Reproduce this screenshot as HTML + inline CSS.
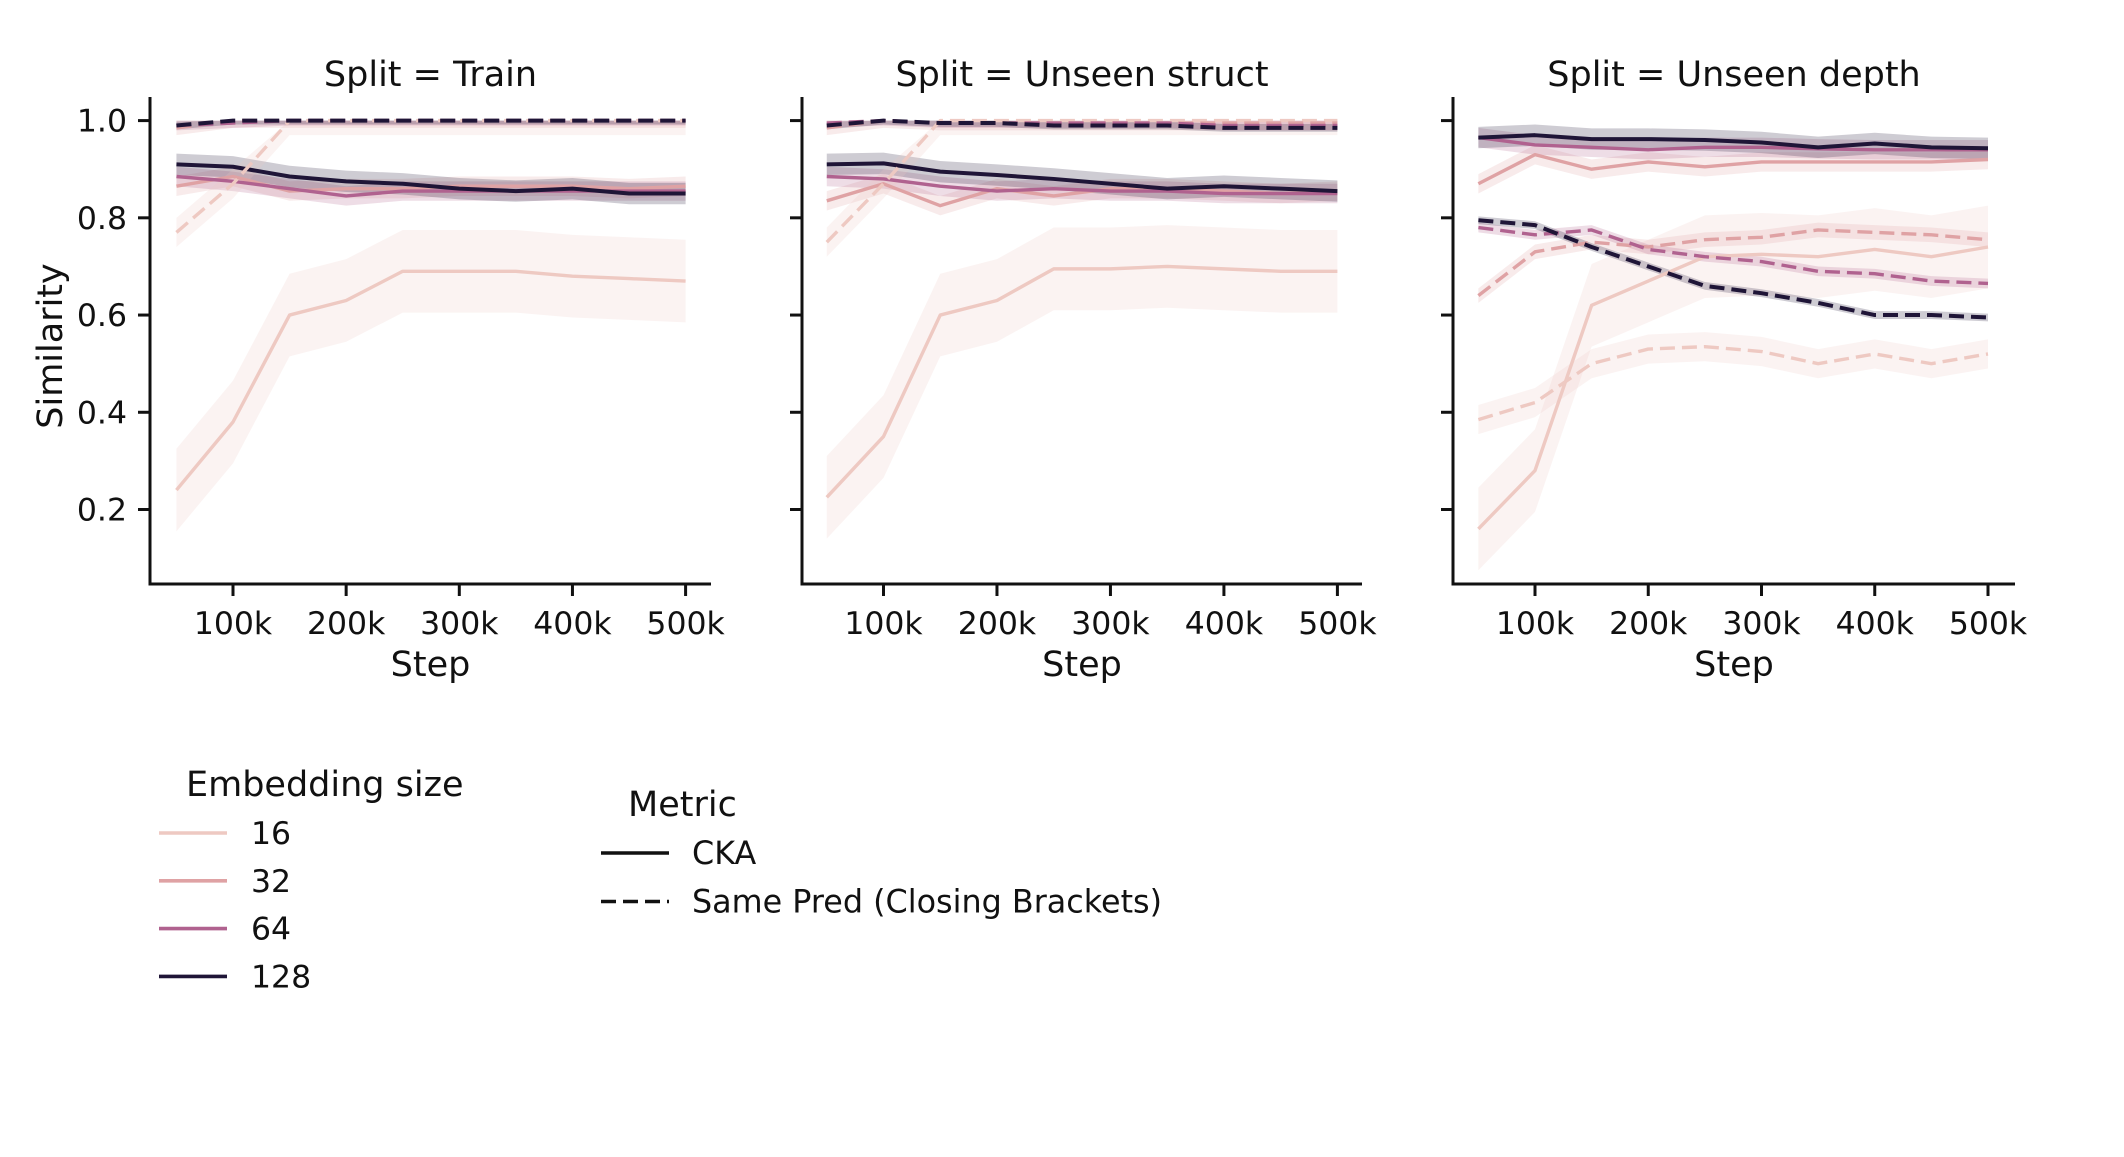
<!DOCTYPE html>
<html><head><meta charset="utf-8">
<style>
html,body{margin:0;padding:0;background:#fff;}
svg text{font-family:"DejaVu Sans","Liberation Sans",sans-serif;fill:#111;}
</style></head>
<body>
<svg id="chart" width="2124" height="1152" viewBox="0 0 2124 1152" xmlns="http://www.w3.org/2000/svg"></svg>
<script>
const steps = [50,100,150,200,250,300,350,400,450,500];
const xTicks = [100,200,300,400,500];
const xTickLabels = ["100k","200k","300k","400k","500k"];
const yTicks = [0.2,0.4,0.6,0.8,1.0];
const yTickLabels = ["0.2","0.4","0.6","0.8","1.0"];
const panelTitles = ["Split = Train","Split = Unseen struct","Split = Unseen depth"];
const embSizes = [16,32,64,128];
const embColors = {16:"#eec9c2",32:"#dfa2a4",64:"#b0628f",128:"#1f1537"};
const metrics = ["CKA","Same Pred (Closing Brackets)"];

// Train
const trainCKA16 = [0.24,0.38,0.60,0.63,0.69,0.69,0.69,0.68,0.675,0.67];
const trainCKA32 = [0.865,0.885,0.855,0.86,0.86,0.865,0.865,0.865,0.86,0.865];
const trainCKA64 = [0.885,0.875,0.86,0.845,0.855,0.855,0.855,0.855,0.855,0.855];
const trainCKA128 = [0.91,0.905,0.885,0.875,0.87,0.86,0.855,0.86,0.85,0.85];
const trainSame16 = [0.77,0.87,1.0,1.0,1.0,1.0,1.0,1.0,1.0,1.0];
const trainSame32 = [0.985,1.0,1.0,1.0,1.0,1.0,1.0,1.0,1.0,1.0];
const trainSame64 = [0.99,0.995,1.0,1.0,1.0,1.0,1.0,1.0,1.0,1.0];
const trainSame128 = [0.99,1.0,1.0,1.0,1.0,1.0,1.0,1.0,1.0,1.0];
// Unseen struct
const structCKA16 = [0.225,0.35,0.60,0.63,0.695,0.695,0.70,0.695,0.69,0.69];
const structCKA32 = [0.835,0.87,0.825,0.86,0.845,0.86,0.86,0.855,0.85,0.855];
const structCKA64 = [0.885,0.88,0.865,0.855,0.86,0.855,0.855,0.85,0.85,0.85];
const structCKA128 = [0.91,0.912,0.895,0.888,0.88,0.87,0.86,0.865,0.86,0.855];
const structSame16 = [0.75,0.87,1.0,1.0,1.0,1.0,1.0,1.0,1.0,1.0];
const structSame32 = [0.985,1.0,0.995,0.995,0.995,0.995,0.995,0.995,0.995,0.995];
const structSame64 = [0.995,1.0,0.995,0.995,0.995,0.995,0.995,0.99,0.99,0.99];
const structSame128 = [0.99,1.0,0.995,0.995,0.99,0.99,0.99,0.985,0.985,0.985];
// Unseen depth
const depthCKA16 = [0.16,0.28,0.62,0.67,0.72,0.725,0.72,0.735,0.72,0.74];
const depthCKA32 = [0.87,0.93,0.90,0.915,0.905,0.915,0.915,0.915,0.915,0.92];
const depthCKA64 = [0.965,0.95,0.945,0.94,0.945,0.945,0.942,0.94,0.94,0.94];
const depthCKA128 = [0.965,0.97,0.962,0.962,0.96,0.955,0.945,0.953,0.945,0.943];
const depthSame16 = [0.385,0.42,0.50,0.53,0.535,0.525,0.50,0.52,0.50,0.52];
const depthSame32 = [0.64,0.73,0.75,0.74,0.755,0.76,0.775,0.77,0.765,0.755];
const depthSame64 = [0.78,0.765,0.775,0.735,0.72,0.71,0.69,0.685,0.67,0.665];
const depthSame128 = [0.795,0.785,0.74,0.70,0.66,0.645,0.625,0.60,0.60,0.595];
// confidence half-widths (per series)
const bandCKA = {16:0.085,32:0.02,64:0.02,128:0.022};
const bandSame = {16:0.03,32:0.015,64:0.01,128:0.008};

const panelData = [
 {cka:{16:trainCKA16,32:trainCKA32,64:trainCKA64,128:trainCKA128}, same:{16:trainSame16,32:trainSame32,64:trainSame64,128:trainSame128}},
 {cka:{16:structCKA16,32:structCKA32,64:structCKA64,128:structCKA128}, same:{16:structSame16,32:structSame32,64:structSame64,128:structSame128}},
 {cka:{16:depthCKA16,32:depthCKA32,64:depthCKA64,128:depthCKA128}, same:{16:depthSame16,32:depthSame32,64:depthSame64,128:depthSame128}}
];
const panels = [
 {left:150,right:711,x100:233,x500:685.6},
 {left:802,right:1362,x100:883.5,x500:1337.4},
 {left:1453,right:2015,x100:1535,x500:1988}
];
const yTop=97, yBot=584, y1=120.6, y02=509.5;
const NS="http://www.w3.org/2000/svg";
const svg=document.getElementById("chart");
function mk(tag,attrs,parent){const e=document.createElementNS(NS,tag);for(const k in attrs)e.setAttribute(k,attrs[k]);(parent||svg).appendChild(e);return e;}
function yScale(v){return y1+(1-v)*(y02-y1)/0.8;}

panels.forEach((p,pi)=>{
  const xs=v=>p.x100+(v-100)*(p.x500-p.x100)/400;
  const g=mk("g",{});
  
  
  const t=mk("text",{x:(p.left+p.right)/2,y:86,"font-size":35,"text-anchor":"middle"},g);
  t.textContent=panelTitles[pi];
  
  
  const d=panelData[pi];
  [["cka",bandCKA],["same",bandSame]].forEach(([m,bw])=>{
    embSizes.forEach(s=>{
      const vals=d[m][s];
      let top=vals.map((v,i)=>xs(steps[i])+","+yScale(Math.min(1.0,v+bw[s]))).join(" ");
      let bot=vals.map((v,i)=>xs(steps[i])+","+yScale(v-bw[s])).reverse().join(" ");
      const b=mk("polygon",{points:top+" "+bot,fill:embColors[s],"fill-opacity":0.22,stroke:"none"},g);
      
      
    });
  });
  [["cka",null],["same","15,7"]].forEach(([m,dash])=>{
    embSizes.forEach(s=>{
      const vals=d[m][s];
      const pts=vals.map((v,i)=>xs(steps[i])+","+yScale(v)).join(" ");
      const a={points:pts,fill:"none",stroke:embColors[s],"stroke-width":s===128?4:3.4,"stroke-linejoin":"round"};
      if(dash)a["stroke-dasharray"]=dash;
      const l=mk("polyline",a,g);
      
      
    });
  });
  const ax=mk("path",{d:`M${p.left},${yTop} V${yBot} H${p.right}`,fill:"none",stroke:"#111","stroke-width":3},g);
  
  
  yTicks.forEach((v,i)=>{
    mk("line",{x1:p.left-12,x2:p.left,y1:yScale(v),y2:yScale(v),stroke:"#111","stroke-width":3},g);
    if(pi===0){
      const tl=mk("text",{x:p.left-23,y:yScale(v)+11,"font-size":31.5,"text-anchor":"end"},g);
      tl.textContent=yTickLabels[i];
      
      
    }
  });
  xTicks.forEach((v,i)=>{
    mk("line",{x1:xs(v),x2:xs(v),y1:yBot,y2:yBot+12,stroke:"#111","stroke-width":3},g);
    const tl=mk("text",{x:xs(v),y:634,"font-size":31.5,"text-anchor":"middle"},g);
    tl.textContent=xTickLabels[i];
    
    
  });
  const xl=mk("text",{x:(p.left+p.right)/2,y:676,"font-size":35,"text-anchor":"middle"},g);
  xl.textContent="Step";
  
  
});
const yl=mk("text",{x:0,y:0,"font-size":35,"text-anchor":"middle",transform:"translate(62,346) rotate(-90)"});
yl.textContent="Similarity";



const lg=mk("g",{});


const lt=mk("text",{x:186,y:796,"font-size":35},lg);
lt.textContent="Embedding size";
embSizes.forEach((s,i)=>{
  const y=833+i*47.8;
  mk("line",{x1:159,x2:227,y1:y,y2:y,stroke:embColors[s],"stroke-width":3.6},lg);
  const tx=mk("text",{x:251,y:y+11,"font-size":31.5},lg);
  tx.textContent=String(s);
  
  
});
const mg=mk("g",{});


const mt=mk("text",{x:628,y:816,"font-size":35},mg);
mt.textContent="Metric";
metrics.forEach((m,i)=>{
  const y=853+i*48.5;
  const a={x1:601,x2:669,y1:y,y2:y,stroke:"#111","stroke-width":3.4};
  if(i===1)a["stroke-dasharray"]="15,7";
  mk("line",a,mg);
  const tx=mk("text",{x:692,y:y+11,"font-size":31.8},mg);
  tx.textContent=m;
  
  
});
</script>
</body></html>
